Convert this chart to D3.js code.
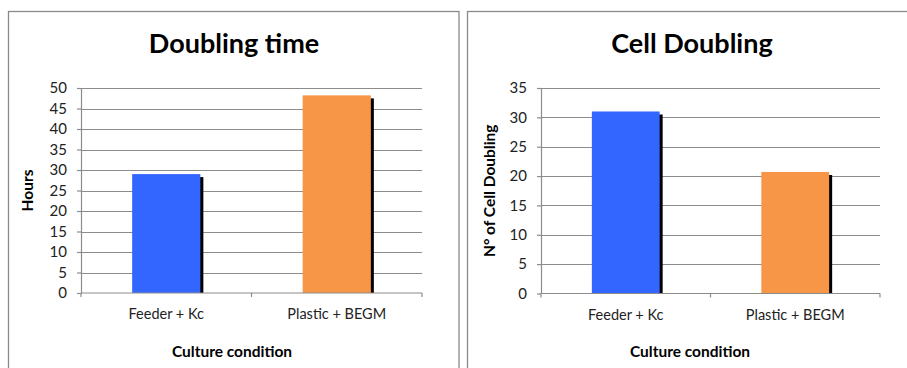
<!DOCTYPE html>
<html>
<head>
<meta charset="utf-8">
<script src="https://cdn.jsdelivr.net/npm/d3@7"></script>
<style>
  html, body { margin: 0; padding: 0; background: #fff; }
  svg { display: block; font-family: Lato, "Open Sans", sans-serif; }
</style>
</head>
<body>
<svg id="chart" width="907" height="368"></svg>
<script>
// Shared categories
const categories = ["Feeder + Kc", "Plastic + BEGM"];
const barColors = ["#3366FF", "#F79646"];

// Doubling time (hours)
const doublingHours = [29.0, 48.2];
const doublingTicks = [0, 5, 10, 15, 20, 25, 30, 35, 40, 45, 50];

// Number of cell doublings
const cellDoublings = [31.0, 20.7];
const cellTicks = [0, 5, 10, 15, 20, 25, 30, 35];

const svg = d3.select("#chart");

const panels = [
  { title: "Doubling time", yTitle: "Hours", values: doublingHours, ticks: doublingTicks,
    frame: { x: 8.5, y: 11.5, w: 450.5, h: 370 },
    plot: { left: 81, right: 422, top: 88, bottom: 293 },
    titleX: 234, xTitleX: 232, yTitleX: 33 },
  { title: "Cell Doubling", yTitle: "N° of Cell Doubling", values: cellDoublings, ticks: cellTicks,
    frame: { x: 467.5, y: 11.5, w: 460, h: 370 },
    plot: { left: 541, right: 880, top: 88, bottom: 293.5 },
    titleX: 692, xTitleX: 690, yTitleX: 495 }
];

panels.forEach(p => {
  const g = svg.append("g");

  // panel frame
  g.append("rect")
    .attr("x", p.frame.x).attr("y", p.frame.y)
    .attr("width", p.frame.w).attr("height", p.frame.h)
    .attr("fill", "#fff").attr("stroke", "#8a8a8a").attr("stroke-width", 1.3);

  const y = d3.scaleLinear()
    .domain([0, d3.max(p.ticks)])
    .range([p.plot.bottom, p.plot.top]);

  const x = d3.scaleBand()
    .domain(categories)
    .range([p.plot.left, p.plot.right])
    .paddingInner(0.6).paddingOuter(0.3);

  // horizontal gridlines
  g.append("g")
    .selectAll("line")
    .data(p.ticks.filter(t => t > 0))
    .join("line")
    .attr("x1", p.plot.left).attr("x2", p.plot.right)
    .attr("y1", d => Math.round(y(d)) + 0.5).attr("y2", d => Math.round(y(d)) + 0.5)
    .attr("stroke", "#8c8c8c").attr("stroke-width", 1.2);

  // y axis
  const yAxis = g.append("g")
    .attr("transform", `translate(${p.plot.left},0)`)
    .call(d3.axisLeft(y).tickValues(p.ticks).tickSize(4).tickPadding(10).tickSizeOuter(0));
  yAxis.select(".domain").attr("stroke", "#8c8c8c").attr("stroke-width", 1.2);
  yAxis.selectAll(".tick line").attr("stroke", "#8c8c8c").attr("stroke-width", 1.2);
  yAxis.selectAll(".tick text")
    .attr("fill", "#222").attr("font-size", 15)
    .attr("font-family", "Lato, sans-serif");

  // bars with drop shadow
  const bars = g.append("g");
  bars.selectAll("rect.shadow")
    .data(p.values)
    .join("rect")
    .attr("class", "shadow")
    .attr("x", (d, i) => x(categories[i]) + 3)
    .attr("y", d => y(d) + 3)
    .attr("width", x.bandwidth())
    .attr("height", d => p.plot.bottom - y(d) - 3)
    .attr("fill", "#000");
  bars.selectAll("rect.bar")
    .data(p.values)
    .join("rect")
    .attr("class", "bar")
    .attr("x", (d, i) => x(categories[i]))
    .attr("y", d => y(d))
    .attr("width", x.bandwidth())
    .attr("height", d => p.plot.bottom - y(d))
    .attr("fill", (d, i) => barColors[i]);

  // x axis
  const xAxis = g.append("g")
    .attr("transform", `translate(0,${p.plot.bottom})`)
    .call(d3.axisBottom(x).tickSize(0).tickPadding(16));
  xAxis.select(".domain").attr("stroke", "#8c8c8c").attr("stroke-width", 1.2)
    .attr("d", `M${p.plot.left},0H${p.plot.right}`);
  xAxis.selectAll(".tick text")
    .attr("fill", "#222").attr("font-size", 14.5)
    .attr("font-family", "Lato, sans-serif");
  // category separator ticks
  const sepX = [p.plot.left, (p.plot.left + p.plot.right) / 2, p.plot.right];
  xAxis.selectAll("line.sep")
    .data(sepX)
    .join("line")
    .attr("class", "sep")
    .attr("x1", d => d).attr("x2", d => d)
    .attr("y1", 0).attr("y2", 4)
    .attr("stroke", "#8c8c8c").attr("stroke-width", 1.2);

  // chart title
  g.append("text")
    .attr("x", p.titleX).attr("y", 53)
    .attr("text-anchor", "middle")
    .attr("font-size", 27).attr("font-weight", "bold")
    .attr("fill", "#000")
    .text(p.title);

  // x axis title
  g.append("text")
    .attr("x", p.xTitleX).attr("y", 357)
    .attr("text-anchor", "middle")
    .attr("font-size", 15.5).attr("font-weight", "bold")
    .attr("fill", "#000")
    .text("Culture condition");

  // y axis title
  g.append("text")
    .attr("transform", `translate(${p.yTitleX},${(p.plot.top + p.plot.bottom) / 2}) rotate(-90)`)
    .attr("text-anchor", "middle")
    .attr("font-size", 15.5).attr("font-weight", "bold")
    .attr("fill", "#000")
    .text(p.yTitle);
});
</script>
</body>
</html>
